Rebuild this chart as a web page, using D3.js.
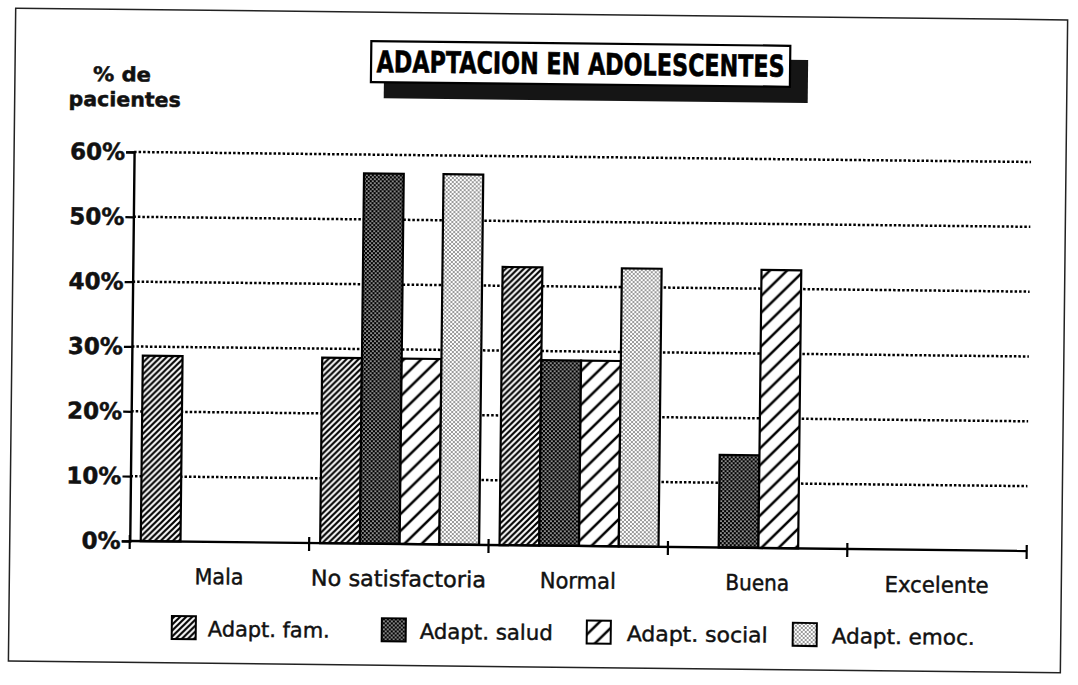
<!DOCTYPE html>
<html>
<head>
<meta charset="utf-8">
<script src="https://cdn.jsdelivr.net/npm/d3@7"></script>
<style>
  html, body { margin: 0; padding: 0; background: #fff; }
  svg { display: block; }
</style>
</head>
<body>
<svg id="chart" width="1078" height="685"></svg>
<script>
// ---------- data ----------
const categories = ["Mala", "No satisfactoria", "Normal", "Buena", "Excelente"];
const seriesNames = ["Adapt. fam.", "Adapt. salud", "Adapt. social", "Adapt. emoc."];
const famValues    = [28.6, 28.6, 42.9, 0, 0];
const saludValues  = [0, 57.1, 28.6, 14.3, 0];
const socialValues = [0, 28.6, 28.6, 42.9, 0];
const emocValues   = [0, 57.1, 42.9, 0, 0];
const yTicks = [0, 10, 20, 30, 40, 50, 60];
const yTickLabels = ["0%", "10%", "20%", "30%", "40%", "50%", "60%"];
const titleText = "ADAPTACION EN ADOLESCENTES";
const yTitle = ["% de", "pacientes"];

const seriesValues = [famValues, saludValues, socialValues, emocValues];
const patternIds = ["pFam", "pSalud", "pSocial", "pEmoc"];

// ---------- layout ----------
const svg = d3.select("#chart");
const defs = svg.append("defs");

// patterns
const pf = defs.append("pattern").attr("id", "pFam").attr("patternUnits", "userSpaceOnUse")
  .attr("width", 6).attr("height", 6);
pf.append("rect").attr("width", 6).attr("height", 6).attr("fill", "#fff");
pf.append("path").attr("d", "M0,6 L6,0 M-1,1 L1,-1 M5,7 L7,5")
  .attr("stroke", "#000").attr("stroke-width", 2.2);

const ps = defs.append("pattern").attr("id", "pSalud").attr("patternUnits", "userSpaceOnUse")
  .attr("width", 4).attr("height", 4);
ps.append("rect").attr("width", 4).attr("height", 4).attr("fill", "#000");
ps.append("circle").attr("cx", 1).attr("cy", 1).attr("r", 0.85).attr("fill", "#fff");
ps.append("circle").attr("cx", 3).attr("cy", 3).attr("r", 0.85).attr("fill", "#fff");

const pso = defs.append("pattern").attr("id", "pSocial").attr("patternUnits", "userSpaceOnUse")
  .attr("width", 17).attr("height", 17);
pso.append("rect").attr("width", 17).attr("height", 17).attr("fill", "#fff");
pso.append("path").attr("d", "M0,17 L17,0 M-2,2 L2,-2 M15,19 L19,15")
  .attr("stroke", "#000").attr("stroke-width", 2.5);

const pe = defs.append("pattern").attr("id", "pEmoc").attr("patternUnits", "userSpaceOnUse")
  .attr("width", 4).attr("height", 4);
pe.append("rect").attr("width", 4).attr("height", 4).attr("fill", "#fff");
pe.append("circle").attr("cx", 1).attr("cy", 1).attr("r", 0.75).attr("fill", "#000");
pe.append("circle").attr("cx", 3).attr("cy", 3).attr("r", 0.75).attr("fill", "#000");

svg.append("rect").attr("width", 1078).attr("height", 685).attr("fill", "#fff");

// whole sheet slightly rotated like the scan
const g = svg.append("g").attr("transform", "rotate(0.64, 539, 342)");

// frame
g.append("rect").attr("x", 12).attr("y", 14).attr("width", 1052).attr("height", 653)
  .attr("fill", "none").attr("stroke", "#222").attr("stroke-width", 1.5);

const plotL = 132, plotR = 1029, y0 = 545.5, yTop = 156.5;

const y = d3.scaleLinear().domain([0, 60]).range([y0, yTop]);
const x0 = d3.scaleBand().domain(categories).range([plotL, plotR]).padding(0);
const x1 = d3.scaleBand().domain(seriesNames).range([11, 170]).padding(0);

// gridlines
g.append("g").selectAll("line").data(yTicks.filter(d => d > 0)).join("line")
  .attr("x1", plotL).attr("x2", plotR)
  .attr("y1", d => y(d)).attr("y2", d => y(d))
  .attr("stroke", "#000").attr("stroke-width", 2.5).attr("stroke-dasharray", "2.5,2");

// bars
const barData = [];
categories.forEach((c, ci) => {
  seriesNames.forEach((s, si) => {
    const v = seriesValues[si][ci];
    if (v > 0) barData.push({ c, s, v, si });
  });
});
g.append("g").selectAll("rect").data(barData).join("rect")
  .attr("x", d => x0(d.c) + x1(d.s))
  .attr("width", x1.bandwidth())
  .attr("y", d => y(d.v))
  .attr("height", d => y0 - y(d.v))
  .attr("fill", d => `url(#${patternIds[d.si]})`)
  .attr("stroke", "#000").attr("stroke-width", 2.2);

// y axis
const yAxis = d3.axisLeft(y).tickValues(yTicks).tickSize(8).tickFormat("");
const ya = g.append("g").attr("transform", `translate(${plotL},0)`).call(yAxis);
ya.select(".domain").attr("stroke", "#000").attr("stroke-width", 2.4);
ya.selectAll(".tick line").attr("stroke", "#000").attr("stroke-width", 2.2);

g.append("g").selectAll("text").data(yTicks).join("text")
  .attr("x", plotL - 9).attr("y", d => y(d) + 8)
  .attr("text-anchor", "end")
  .attr("font-family", "DejaVu Sans").attr("font-weight", "bold").attr("font-size", 23)
  .attr("fill", "#111").attr("stroke", "#111").attr("stroke-width", 0.5)
  .text((d, i) => yTickLabels[i]);

// x axis line and boundary ticks
g.append("line").attr("x1", plotL).attr("x2", plotR).attr("y1", y0).attr("y2", y0)
  .attr("stroke", "#000").attr("stroke-width", 2.4);
const bounds = categories.map(c => x0(c)).concat([x0(categories[categories.length - 1]) + x0.bandwidth()]);
g.append("g").selectAll("line").data(bounds).join("line")
  .attr("x1", d => d).attr("x2", d => d).attr("y1", y0 - 6).attr("y2", y0 + 8)
  .attr("stroke", "#000").attr("stroke-width", 2.2);

// category labels
const catWidths = [49, 175, 76, 64, 104];
g.append("g").selectAll("text").data(categories).join("text")
  .attr("x", d => x0(d) + x0.bandwidth() / 2).attr("y", 588)
  .attr("text-anchor", "middle")
  .attr("font-family", "DejaVu Sans").attr("font-size", 22).attr("fill", "#111")
  .attr("stroke", "#111").attr("stroke-width", 0.45)
  .attr("textLength", (d, i) => catWidths[i]).attr("lengthAdjust", "spacingAndGlyphs")
  .text(d => d);

// y title
g.append("text").attr("x", 119).attr("y", 86).attr("text-anchor", "middle")
  .attr("font-family", "DejaVu Sans").attr("font-weight", "bold").attr("font-size", 20)
  .attr("textLength", 58).attr("lengthAdjust", "spacingAndGlyphs")
  .attr("fill", "#111").attr("stroke", "#111").attr("stroke-width", 0.5)
  .text(yTitle[0]);
g.append("text").attr("x", 122).attr("y", 111).attr("text-anchor", "middle")
  .attr("font-family", "DejaVu Sans").attr("font-weight", "bold").attr("font-size", 20)
  .attr("textLength", 112).attr("lengthAdjust", "spacingAndGlyphs")
  .attr("fill", "#111").attr("stroke", "#111").attr("stroke-width", 0.5)
  .text(yTitle[1]);

// title box with shadow
g.append("rect").attr("x", 381).attr("y", 57).attr("width", 424).attr("height", 43).attr("fill", "#151515");
g.append("rect").attr("x", 368).attr("y", 43).attr("width", 419).attr("height", 41)
  .attr("fill", "#fff").attr("stroke", "#000").attr("stroke-width", 2.2);
g.append("text").attr("x", 577.5).attr("y", 74).attr("text-anchor", "middle")
  .attr("font-family", "DejaVu Sans").attr("font-weight", "bold").attr("font-size", 30)
  .attr("textLength", 408).attr("lengthAdjust", "spacingAndGlyphs")
  .attr("fill", "#000").attr("stroke", "#000").attr("stroke-width", 0.6)
  .text(titleText);

// legend
const legIconX = [175, 385, 590, 796];
const legTextX = [211, 423, 630, 835];
const legTextW = [122, 133, 141, 143];
const leg = g.append("g").selectAll("g").data(seriesNames).join("g");
leg.append("rect")
  .attr("x", (d, i) => legIconX[i]).attr("y", 620).attr("width", 24).attr("height", 23)
  .attr("fill", (d, i) => `url(#${patternIds[i]})`)
  .attr("stroke", "#000").attr("stroke-width", 2);
leg.append("text")
  .attr("x", (d, i) => legTextX[i]).attr("y", 640)
  .attr("font-family", "DejaVu Sans").attr("font-size", 21).attr("fill", "#111")
  .attr("stroke", "#111").attr("stroke-width", 0.45)
  .attr("textLength", (d, i) => legTextW[i]).attr("lengthAdjust", "spacingAndGlyphs")
  .text(d => d);
</script>
</body>
</html>
